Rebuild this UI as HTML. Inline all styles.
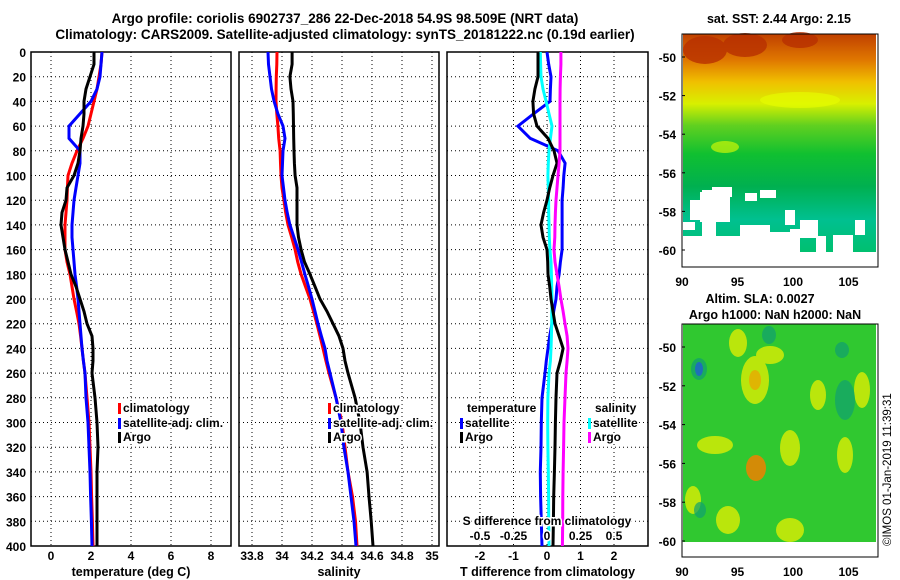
<!DOCTYPE html>
<html><head><meta charset="utf-8"><style>
html,body{margin:0;padding:0;background:#fff;}
svg{display:block;font-family:"Liberation Sans",sans-serif;font-weight:bold;}
</style></head><body>
<svg id="fig" width="900" height="580" viewBox="0 0 900 580" xmlns="http://www.w3.org/2000/svg">
<defs>
<linearGradient id="sstg" x1="0" y1="0" x2="0" y2="1">
<stop offset="0" stop-color="#c04000"/><stop offset="0.12" stop-color="#e07800"/><stop offset="0.22" stop-color="#f0c000"/><stop offset="0.32" stop-color="#d8f000"/><stop offset="0.42" stop-color="#60d020"/><stop offset="0.55" stop-color="#10c030"/><stop offset="0.7" stop-color="#00b050"/><stop offset="0.85" stop-color="#00c090"/><stop offset="1" stop-color="#00c070"/>
</linearGradient>
<clipPath id="c1"><rect x="31" y="52" width="200" height="494"/></clipPath>
<clipPath id="c2"><rect x="239" y="52" width="200" height="494"/></clipPath>
<clipPath id="c3"><rect x="447" y="52" width="201" height="494"/></clipPath>
</defs>
<text x="345" y="23" font-size="13.5" text-anchor="middle">Argo profile: coriolis 6902737_286 22-Dec-2018 54.9S 98.509E (NRT data)</text>
<text x="345" y="39" font-size="13.5" text-anchor="middle">Climatology: CARS2009. Satellite-adjusted climatology: synTS_20181222.nc (0.19d earlier)</text>
<g id="p1"></g>
<g id="p2"></g>
<g id="p3"></g>
<g id="maps">
<text x="779" y="23" font-size="12.5" text-anchor="middle">sat. SST: 2.44 Argo: 2.15</text>
<rect x="683" y="34" width="193" height="218" fill="url(#sstg)"/>
<g fill="#b83000" opacity="0.8"><ellipse cx="705" cy="50" rx="22" ry="14"/><ellipse cx="745" cy="45" rx="22" ry="12"/><ellipse cx="800" cy="40" rx="18" ry="8"/></g>
<g fill="#e8ff00" opacity="0.6"><ellipse cx="725" cy="147" rx="14" ry="6"/><ellipse cx="800" cy="100" rx="40" ry="8"/></g>
<g fill="#ffffff">
<rect x="702" y="190" width="14" height="52"/><rect x="683" y="236" width="60" height="16"/><rect x="690" y="200" width="20" height="20"/><rect x="700" y="192" width="30" height="30"/><rect x="740" y="225" width="30" height="27"/><rect x="770" y="232" width="30" height="20"/><rect x="800" y="220" width="18" height="18"/><rect x="833" y="235" width="20" height="17"/><rect x="855" y="220" width="10" height="15"/><rect x="712" y="187" width="20" height="10"/><rect x="760" y="190" width="16" height="8"/><rect x="785" y="210" width="10" height="15"/><rect x="816" y="236" width="10" height="16"/><rect x="683" y="222" width="12" height="8"/><rect x="745" y="193" width="12" height="8"/><rect x="790" y="229" width="12" height="8"/><rect x="876" y="245" width="1" height="7"/>
</g>
<rect x="682" y="34" width="196" height="233" fill="none" stroke="#000"/>
<text x="760" y="303" font-size="12.5" text-anchor="middle">Altim. SLA: 0.0027</text>
<text x="775" y="319" font-size="12.5" text-anchor="middle">Argo h1000: NaN h2000: NaN</text>
<rect x="683" y="324" width="193" height="218" fill="#30c830"/>
<g fill="#e8f000" opacity="0.75"><ellipse cx="738" cy="343" rx="9" ry="14"/><ellipse cx="755" cy="380" rx="14" ry="24"/><ellipse cx="715" cy="445" rx="18" ry="9"/><ellipse cx="818" cy="395" rx="8" ry="15"/><ellipse cx="862" cy="390" rx="8" ry="18"/><ellipse cx="728" cy="520" rx="12" ry="14"/><ellipse cx="790" cy="530" rx="14" ry="12"/><ellipse cx="790" cy="448" rx="10" ry="18"/><ellipse cx="845" cy="455" rx="8" ry="18"/><ellipse cx="770" cy="355" rx="14" ry="9"/><ellipse cx="693" cy="500" rx="8" ry="14"/></g>
<ellipse cx="756" cy="468" rx="10" ry="13" fill="#f08000" opacity="0.85"/>
<ellipse cx="755" cy="380" rx="6" ry="10" fill="#f0a000" opacity="0.7"/>
<g fill="#10a070" opacity="0.7"><ellipse cx="699" cy="369" rx="8" ry="11"/><ellipse cx="769" cy="335" rx="7" ry="9"/><ellipse cx="842" cy="350" rx="7" ry="8"/><ellipse cx="700" cy="510" rx="6" ry="8"/><ellipse cx="845" cy="400" rx="10" ry="20"/></g>
<ellipse cx="699" cy="369" rx="4" ry="7" fill="#2060d0" opacity="0.8"/>
<rect x="682" y="324" width="196" height="233" fill="none" stroke="#000"/>
<text transform="translate(891,546) rotate(-90)" font-size="11.5" font-weight="normal">©IMOS 01-Jan-2019 11:39:31</text>
</g>
</svg>
<script>
const depths=[0,10,20,30,40,50,60,70,80,90,100,110,120,130,140,150,160,170,180,190,200,210,220,230,240,250,260,280,300,320,340,360,380,400];
const tempArgo=[2.15,2.15,1.95,1.75,1.65,1.65,1.6,1.5,1.45,1.35,1.15,0.8,0.75,0.55,0.5,0.6,0.7,0.85,1.0,1.25,1.45,1.65,1.8,2.05,2.1,2.1,2.05,2.2,2.3,2.35,2.3,2.3,2.3,2.3];
const tempClim=[2.55,2.5,2.4,2.3,2.15,2.0,1.85,1.6,1.3,1.05,0.85,0.82,0.8,0.75,0.7,0.7,0.7,0.8,0.95,1.05,1.15,1.28,1.4,1.48,1.55,1.62,1.7,1.8,1.9,1.95,2.0,2.03,2.07,2.1];
const tempSat=[2.55,2.5,2.45,2.3,2.0,1.45,0.9,0.9,1.45,1.45,1.35,1.25,1.15,1.1,1.05,1.05,1.1,1.15,1.2,1.28,1.35,1.4,1.45,1.5,1.55,1.62,1.7,1.75,1.85,1.9,1.95,1.98,2.02,2.05];
const salArgo=[34.067,34.067,34.053,34.06,34.073,34.075,34.077,34.078,34.08,34.083,34.087,34.1,34.1,34.1,34.1,34.11,34.127,34.15,34.187,34.22,34.253,34.3,34.34,34.38,34.407,34.42,34.44,34.487,34.52,34.54,34.567,34.58,34.595,34.607];
const salClim=[33.967,33.965,33.962,33.961,33.96,33.965,33.973,33.978,33.987,33.99,33.993,34.0,34.013,34.025,34.04,34.065,34.087,34.105,34.127,34.157,34.187,34.21,34.233,34.253,34.273,34.293,34.313,34.36,34.4,34.42,34.44,34.47,34.49,34.5];
const salSat=[33.907,33.91,33.92,33.93,33.947,33.973,34.007,34.02,34.007,34.003,34.0,34.01,34.02,34.035,34.053,34.08,34.107,34.13,34.153,34.177,34.2,34.22,34.24,34.263,34.287,34.3,34.32,34.36,34.393,34.413,34.44,34.46,34.48,34.493];
const dTArgo=[-0.27,-0.27,-0.27,-0.36,-0.42,-0.4,-0.3,0.03,0.21,0.3,0.18,0.08,0,-0.1,-0.18,-0.12,0,0.02,0.03,0.08,0.12,0.18,0.24,0.36,0.48,0.4,0.3,0.27,0.25,0.24,0.22,0.2,0.19,0.18];
const dTSat=[0,0.05,0.12,0.1,0.09,-0.4,-0.87,-0.5,0.33,0.54,0.5,0.48,0.45,0.45,0.45,0.45,0.45,0.4,0.36,0.3,0.27,0.2,0.15,0.08,0.03,-0.02,-0.06,-0.15,-0.17,-0.18,-0.2,-0.19,-0.17,-0.15];
const dSSat=[-0.05,-0.048,-0.045,-0.03,-0.007,0.015,0.037,0.025,0.015,0.01,0.007,0.01,0.012,0.013,0.015,0.017,0.022,0.03,0.033,0.035,0.037,0.036,0.035,0.033,0.03,0.025,0.015,0.007,0.005,0.007,0.01,0.012,0.013,0.015];
const dSArgo=[0.104,0.104,0.1,0.098,0.097,0.097,0.097,0.097,0.097,0.09,0.082,0.075,0.067,0.063,0.06,0.058,0.052,0.06,0.075,0.09,0.104,0.12,0.134,0.15,0.157,0.15,0.142,0.134,0.127,0.124,0.12,0.118,0.117,0.115];
const tTicks=[0,2,4,6,8];
const sTicks=[33.8,34,34.2,34.4,34.6,34.8,35];
const dTTicks=[-2,-1,0,1,2];
const dSTicks=[-0.5,-0.25,0,0.25,0.5];
const depthTicks=[0,20,40,60,80,100,120,140,160,180,200,220,240,260,280,300,320,340,360,380,400];
const latTicks=[-50,-52,-54,-56,-58,-60];
const lonTicks=[90,95,100,105];

const NS='http://www.w3.org/2000/svg';
const svg=document.getElementById('fig');
function mk(tag,attrs,parent,txt){const e=document.createElementNS(NS,tag);for(const k in attrs)e.setAttribute(k,attrs[k]);if(txt!==undefined)e.textContent=txt;parent.appendChild(e);return e;}
const yD=d=>52+d*494/400;
function panel(g,x0,x1,xs,ticks,tickFmt,title,clip,showY){
  for(const d of depthTicks){ if(d>0&&d<400){const l=mk('line',{x1:x0,x2:x1,y1:yD(d),y2:yD(d),stroke:'#000','stroke-dasharray':'1,3'},g);}
    if(showY){const t=mk('text',{x:x0-5,y:yD(d)+5,'font-size':12,'text-anchor':'end'},g,String(d));}}
  for(const v of ticks){const x=xs(v);const l=mk('line',{x1:x,x2:x,y1:52,y2:546,stroke:'#000','stroke-dasharray':'1,3'},g);
    const t=mk('text',{x:x,y:560,'font-size':12,'text-anchor':'middle'},g,tickFmt(v));}
  const r=mk('rect',{x:x0,y:52,width:x1-x0,height:494,fill:'none',stroke:'#000','stroke-width':1.5},g);
  const tt=mk('text',{x:(x0+x1)/2,y:576,'font-size':12.5,'text-anchor':'middle'},g,title);
}
function line(g,vals,xs,color,name,clip){const pts=vals.map((v,i)=>xs(v).toFixed(1)+','+yD(depths[i]).toFixed(1)).join(' ');const p=mk('polyline',{points:pts,fill:'none',stroke:color,'stroke-width':3,'clip-path':'url(#'+clip+')'},g);}
function legend(g,x,y,color,label,name){const r=mk('rect',{x:x,y:y-9,width:3,height:11,fill:color},g);
  const t=mk('text',{x:x+5,y:y,'font-size':12,stroke:'#fff','stroke-width':3,'paint-order':'stroke'},g,label);}

const p1=document.getElementById('p1');
const xT=v=>51+20*v;
panel(p1,31,231,xT,tTicks,v=>String(v),'temperature (deg C)','c1',true);
line(p1,tempClim,xT,'#ff0000','temp-climatology-line','c1');
line(p1,tempSat,xT,'#0000ff','temp-satellite-line','c1');
line(p1,tempArgo,xT,'#000000','temp-argo-line','c1');
legend(p1,118,412,'#ff0000','climatology','legend-climatology');
legend(p1,118,427,'#0000ff','satellite-adj. clim.','legend-satellite');
legend(p1,118,441,'#000000','Argo','legend-argo');

const p2=document.getElementById('p2');
const xS=v=>282+150*(v-34);
panel(p2,239,439,xS,sTicks,v=>String(v),'salinity','c2',false);
line(p2,salClim,xS,'#ff0000','sal-climatology-line','c2');
line(p2,salSat,xS,'#0000ff','sal-satellite-line','c2');
line(p2,salArgo,xS,'#000000','sal-argo-line','c2');
legend(p2,328,412,'#ff0000','climatology','legend-climatology');
legend(p2,328,427,'#0000ff','satellite-adj. clim.','legend-satellite');
legend(p2,328,441,'#000000','Argo','legend-argo');

const p3=document.getElementById('p3');
const xDT=v=>547+33.5*v;
const xDS=v=>547+134*v;
panel(p3,447,648,xDT,dTTicks,v=>String(v),'T difference from climatology','c3',false);
line(p3,dTSat,xDT,'#0000ff','dT-satellite-line','c3');
line(p3,dSSat,xDS,'#00ffff','dS-satellite-line','c3');
line(p3,dTArgo,xDT,'#000000','dT-argo-line','c3');
line(p3,dSArgo,xDS,'#ff00ff','dS-argo-line','c3');
let tl=mk('text',{x:467,y:412,'font-size':12,stroke:'#fff','stroke-width':3,'paint-order':'stroke'},p3,'temperature');
legend(p3,460,427,'#0000ff','satellite','legend-t-satellite');
legend(p3,460,441,'#000000','Argo','legend-t-argo');
tl=mk('text',{x:595,y:412,'font-size':12,stroke:'#fff','stroke-width':3,'paint-order':'stroke'},p3,'salinity');
legend(p3,588,427,'#00ffff','satellite','legend-s-satellite');
legend(p3,588,441,'#ff00ff','Argo','legend-s-argo');
tl=mk('text',{x:547,y:525,'font-size':12,'text-anchor':'middle',stroke:'#fff','stroke-width':3,'paint-order':'stroke'},p3,'S difference from climatology');
for(const v of dSTicks){const t=mk('text',{x:xDS(v),y:540,'font-size':12,'text-anchor':'middle',stroke:'#fff','stroke-width':3,'paint-order':'stroke'},p3,String(v));}

const maps=document.getElementById('maps');
function mapAxes(top,lat50y,lat60y,lonY){
  const yl=v=>lat50y+(lat60y-lat50y)*(v+50)/-10;
  for(const v of latTicks){const t=mk('text',{x:676,y:yl(v)+5,'font-size':12,'text-anchor':'end'},maps,String(v));
    mk('line',{x1:682,x2:685,y1:yl(v),y2:yl(v),stroke:'#000'},maps);}
  for(const v of lonTicks){const x=682+11.1*(v-90);const t=mk('text',{x:x,y:lonY,'font-size':12,'text-anchor':'middle'},maps,String(v));}
}
mapAxes(34,57,250,286);
mapAxes(324,347,541,576);
</script>
</body></html>
